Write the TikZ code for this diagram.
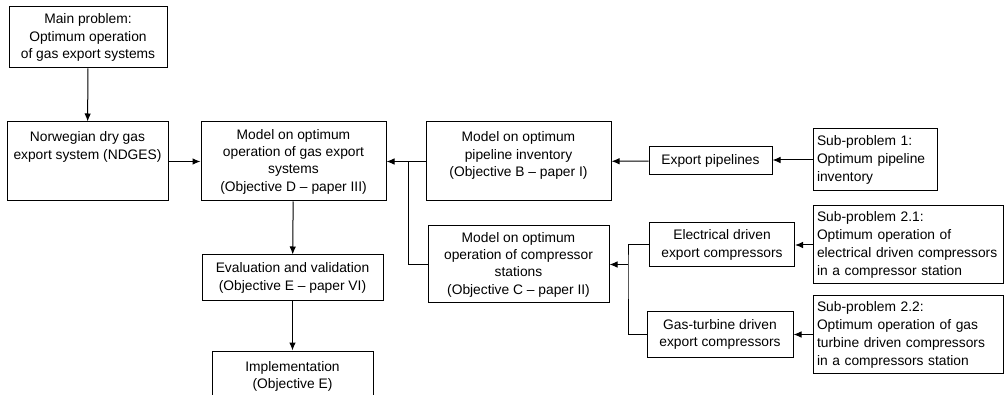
\documentclass[tikz,border=0pt]{standalone}
\usepackage{fontspec}
\setmainfont{Liberation Sans}
\usetikzlibrary{arrows.meta}
\tikzset{
        gas_box/.style={draw=black, line width=1pt, inner sep=0pt, align=center},
        sub_box/.style={draw=black, line width=1pt, inner xsep=4pt, inner ysep=0pt, align=left,
                        font={\fontsize{13.8}{18}\selectfont\hyphenpenalty=10000\relax\exhyphenpenalty=10000\relax}},
        link_line/.style={line width=1pt, draw=black},
        link_arrow/.style={link_line, -{Latex[length=8pt,width=6.5pt]}}
    }
% box with its text set at the top
\newcommand{\toptext}[3]{\parbox[c][#2pt][t]{#1pt}{\centering\rule{0pt}{20pt}#3}}

\begin{document}
\begin{tikzpicture}[x=1pt, y=-1pt, font=\fontsize{13.8}{17.3}\selectfont]
    \clip (0,0) rectangle (1004,395);
    \fill[white] (0,0) rectangle (1004,395);
    % left column
    \node[gas_box, minimum width=158, minimum height=61] (main_prob) at (88,37.5)
        {Main problem:\\Optimum operation\\of gas export systems};
    \node[gas_box] (ndges) at (87.5,161.5)
        {\toptext{161}{79}{Norwegian dry gas\\export system (NDGES)}};
    % models
    \node[gas_box, minimum width=185, minimum height=79] (model_d) at (293.5,161.5)
        {Model on optimum\\operation of gas export\\systems\\(Objective D -- paper III)};
    \node[gas_box, minimum width=181, minimum height=46] (eval) at (292.5,278)
        {Evaluation and validation\\(Objective E -- paper VI)};
    \node[gas_box] (impl) at (292.5,381)
        {\toptext{161}{60}{Implementation\\(Objective E)}};
    \node[gas_box] (model_b) at (518.5,161.5)
        {\toptext{185}{79}{Model on optimum\\pipeline inventory\\(Objective B -- paper I)}};
    \node[gas_box, minimum width=181, minimum height=77] (model_c) at (518.5,264.5)
        {Model on optimum\\operation of compressor\\stations\\(Objective C -- paper II)};
    % subsystems
    \node[gas_box, minimum width=123, minimum height=28] (export_pipe) at (710.5,161)
        {Export pipelines};
    \node[gas_box, minimum width=145, minimum height=44] (elec_comp) at (722,245)
        {Electrical driven\\export compressors};
    \node[gas_box, minimum width=146, minimum height=45] (gt_comp) at (720,334.5)
        {Gas-turbine driven\\export compressors};
    % sub-problems
    \node[sub_box, text width=116, minimum height=62] (sub_one) at (875,160)
        {Sub-problem 1:\\Optimum pipeline\\inventory};
    \node[sub_box, text width=182, minimum height=78] (sub_two_one) at (908,245)
        {Sub-problem 2.1:\\Optimum operation of\\electrical driven compressors\\in a compressor station};
    \node[sub_box, text width=182, minimum height=77] (sub_two_two) at (908,334.5)
        {Sub-problem 2.2:\\Optimum operation of gas\\turbine driven compressors\\in a compressors station};

    \coordinate (junc_bc) at (408,161.5);
    \coordinate (junc_comp) at (628,264.5);

    \draw[link_arrow] (main_prob) -- (ndges);
    \draw[link_arrow] (ndges) -- (model_d);
    \draw[link_arrow] (model_d) -- (eval);
    \draw[link_arrow] (eval) -- (impl.north);
    \draw[link_arrow] (model_b) -- (model_d);
    \draw[link_line] (model_c.west) -| (junc_bc);
    \draw[link_arrow] (export_pipe) -- (model_b);
    \draw[link_arrow] (sub_one.west) -- (export_pipe.east |- sub_one.west);
    \draw[link_line] (elec_comp.west) -| (junc_comp) |- (gt_comp.west);
    \draw[link_arrow] (junc_comp) -- (model_c.east);
    \draw[link_arrow] (sub_two_one) -- (elec_comp);
    \draw[link_arrow] (sub_two_two) -- (gt_comp);
\end{tikzpicture}
\end{document}
